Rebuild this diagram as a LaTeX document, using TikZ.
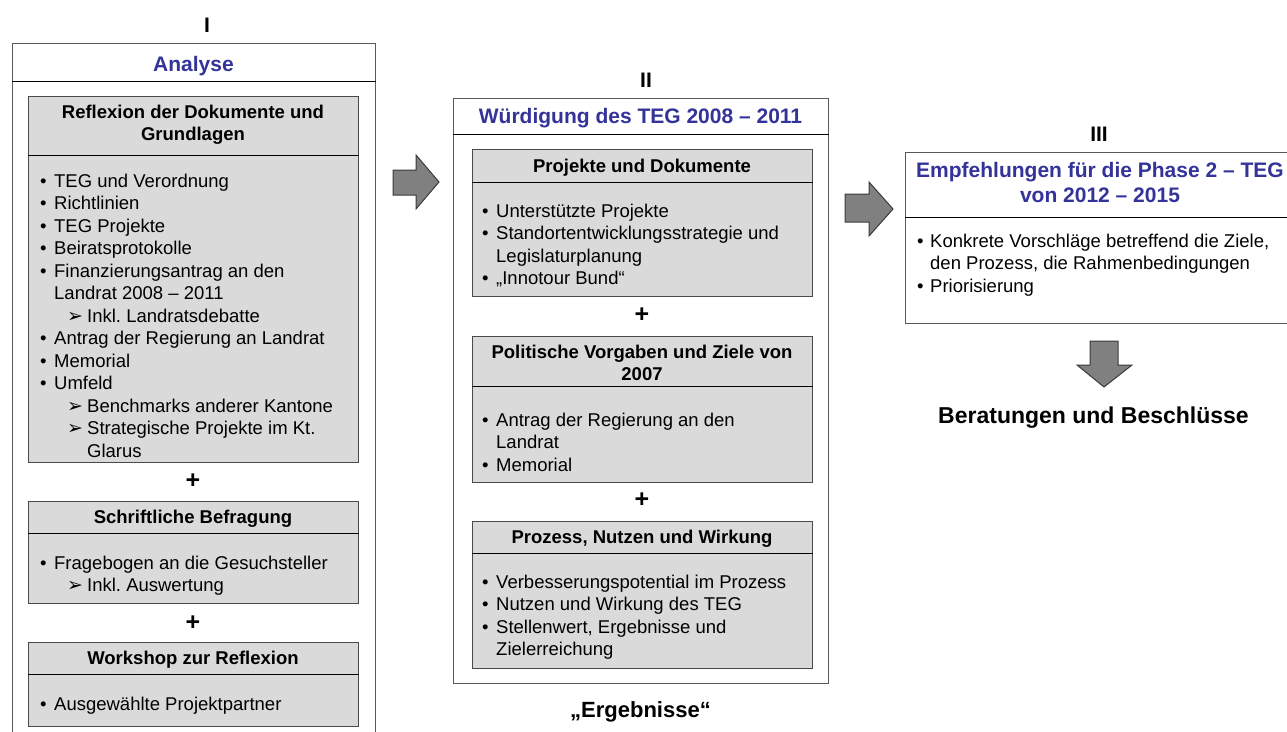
\documentclass[tikz,border=0pt]{standalone}
\usepackage{fontspec}
\setmainfont{Liberation Sans}
\newfontfamily\symfont{DejaVu Sans}
\frenchspacing
\definecolor{titleblue}{HTML}{333399}
\definecolor{boxgray}{HTML}{DADADA}
\definecolor{boxline}{HTML}{4A4A4A}
\definecolor{frameline}{HTML}{5A5A5A}
\definecolor{arrowfill}{HTML}{808080}
\definecolor{arrowline}{HTML}{3A3A3A}
% text sizes
\newcommand{\bodyfont}{\fontsize{18.5}{22.5}\selectfont}
\newcommand{\headfont}{\fontsize{18.5}{22}\selectfont\bfseries}
\newcommand{\titlefont}{\fontsize{21}{25}\selectfont\bfseries}
\newcommand{\bigfont}{\fontsize{23}{27}\selectfont\bfseries}
% list helpers
\newcommand{\blist}[1]{\begin{tabular}[t]{@{}l@{}}#1\end{tabular}}
\newcommand{\clist}[1]{\begin{tabular}[t]{@{}c@{}}#1\end{tabular}}
\newcommand{\bpt}[1]{\makebox[14pt][l]{•}#1}
\newcommand{\bcont}[1]{\hspace*{14pt}#1}
\newcommand{\bsub}[1]{\hspace*{27pt}\makebox[20pt][l]{\fontsize{19}{19}\selectfont\symfont ➢}#1}
\newcommand{\bsubcont}[1]{\hspace*{47pt}#1}
\begin{document}
\begin{tikzpicture}[x=1pt,y=-1pt,
  frame/.style={draw=frameline, line width=1.2pt, fill=white, inner sep=0pt, anchor=north west},
  graybox/.style={draw=boxline, line width=1.4pt, fill=boxgray, inner sep=0pt, anchor=north west},
  sepline/.style={draw=black, line width=1pt},
  blockarrow/.style={draw=arrowline, line width=1pt, fill=arrowfill, line join=miter},
  listtext/.style={anchor=base west, inner sep=0pt, font=\bodyfont},
  headtext/.style={anchor=base, inner sep=0pt, font=\headfont},
  titletext/.style={anchor=base, inner sep=0pt, font=\titlefont, text=titleblue},
  plus/.style={anchor=center, inner sep=0pt, font=\fontsize{25}{25}\selectfont\bfseries},
  numeral/.style={anchor=base, inner sep=0pt, font=\titlefont},
  bigtext/.style={anchor=base, inner sep=0pt, font=\bigfont}]
\useasboundingbox (0,0) rectangle (1287,731);
\clip (0,0) rectangle (1287,731);

% ---------------- column I ----------------
\node[numeral] (numI) at (207,32) {I};
\node[frame, minimum width=363pt, minimum height=717pt] (boxI) at (12,43) {};
\draw[sepline] (boxI.north west |- 0,81) -- (boxI.north east |- 0,81);
\node[titletext] (titleI) at (193.5,71) {Analyse};

\node[graybox, minimum width=330pt, minimum height=366pt] (ga) at (28,96) {};
\draw[sepline] (ga.north west |- 0,155) -- (ga.north east |- 0,155);
\node[headtext] (ha) at (193,118) {\clist{Reflexion der Dokumente und\\Grundlagen}};
\node[listtext] (la) at (40,187) {\blist{%
\bpt{TEG und Verordnung}\\
\bpt{Richtlinien}\\
\bpt{TEG Projekte}\\
\bpt{Beiratsprotokolle}\\
\bpt{Finanzierungsantrag an den}\\
\bcont{Landrat 2008 – 2011}\\
\bsub{Inkl. Landratsdebatte}\\
\bpt{Antrag der Regierung an Landrat}\\
\bpt{Memorial}\\
\bpt{Umfeld}\\
\bsub{Benchmarks anderer Kantone}\\
\bsub{Strategische Projekte im Kt.}\\
\bsubcont{Glarus}}};

\node[plus] (pa) at (193,481) {+};

\node[graybox, minimum width=330pt, minimum height=102pt] (gb) at (28,501) {};
\draw[sepline] (gb.north west |- 0,533) -- (gb.north east |- 0,533);
\node[headtext] (hb) at (193,523) {Schriftliche Befragung};
\node[listtext] (lb) at (40,569) {\blist{%
\bpt{Fragebogen an die Gesuchsteller}\\
\bsub{Inkl. Auswertung}}};

\node[plus] (pb) at (193,623) {+};

\node[graybox, minimum width=330pt, minimum height=84pt] (gc) at (28,642) {};
\draw[sepline] (gc.north west |- 0,674) -- (gc.north east |- 0,674);
\node[headtext] (hc) at (193,664) {Workshop zur Reflexion};
\node[listtext] (lc) at (40,710) {\blist{\bpt{Ausgewählte Projektpartner}}};

% arrow I -> II
\draw[blockarrow] (393,170) -- (416,170) -- (416,155) -- (439,182) -- (416,209) -- (416,195) -- (393,195) -- cycle;

% ---------------- column II ----------------
\node[numeral] (numII) at (646,87) {II};
\node[frame, minimum width=375pt, minimum height=585pt] (boxII) at (453,98) {};
\draw[sepline] (boxII.north west |- 0,134) -- (boxII.north east |- 0,134);
\node[titletext] (titleII) at (640.5,123) {Würdigung des TEG 2008 – 2011};

\node[graybox, minimum width=340pt, minimum height=147pt] (gd) at (472,149) {};
\draw[sepline] (gd.north west |- 0,182) -- (gd.north east |- 0,182);
\node[headtext] (hd) at (642,172) {Projekte und Dokumente};
\node[listtext] (ld) at (482,217) {\blist{%
\bpt{Unterstützte Projekte}\\
\bpt{Standortentwicklungsstrategie und}\\
\bcont{Legislaturplanung}\\
\bpt{„Innotour Bund“}}};

\node[plus] (pd) at (642,315) {+};

\node[graybox, minimum width=340pt, minimum height=146pt] (ge) at (472,336) {};
\draw[sepline] (ge.north west |- 0,386) -- (ge.north east |- 0,386);
\node[headtext] (he) at (642,358) {\clist{Politische Vorgaben und Ziele von\\2007}};
\node[listtext] (le) at (482,426) {\blist{%
\bpt{Antrag der Regierung an den}\\
\bcont{Landrat}\\
\bpt{Memorial}}};

\node[plus] (pe) at (642,500) {+};

\node[graybox, minimum width=340pt, minimum height=147pt] (gf) at (472,521) {};
\draw[sepline] (gf.north west |- 0,553) -- (gf.north east |- 0,553);
\node[headtext] (hf) at (642,543) {Prozess, Nutzen und Wirkung};
\node[listtext] (lf) at (482,588) {\blist{%
\bpt{Verbesserungspotential im Prozess}\\
\bpt{Nutzen und Wirkung des TEG}\\
\bpt{Stellenwert, Ergebnisse und}\\
\bcont{Zielerreichung}}};

\node[bigtext, font=\fontsize{22}{26}\selectfont\bfseries] (result) at (640.5,717) {„Ergebnisse“};

% arrow II -> III
\draw[blockarrow] (845,194) -- (869,194) -- (869,182) -- (893,209) -- (869,236) -- (869,222) -- (845,222) -- cycle;

% ---------------- column III ----------------
\node[numeral] (numIII) at (1099,141) {III};
\node[frame, minimum width=390pt, minimum height=171pt] (boxIII) at (905,152) {};
\draw[sepline] (boxIII.north west |- 0,217) -- (boxIII.north east |- 0,217);
\node[titletext] (titleIII) at (1100,177) {\clist{Empfehlungen für die Phase 2 – TEG\\von 2012 – 2015}};
\node[listtext] (lg) at (917,247) {\blist{%
\makebox[13pt][l]{•}Konkrete Vorschläge betreffend die Ziele,\\
\hspace*{13pt}den Prozess, die Rahmenbedingungen\\
\makebox[13pt][l]{•}Priorisierung}};

% arrow III -> decisions
\draw[blockarrow] (1090,341) -- (1118,341) -- (1118,365) -- (1132,365) -- (1104,387) -- (1077,365) -- (1090,365) -- cycle;

\node[bigtext] (final) at (1093.5,423) {Beratungen und Beschlüsse};
\end{tikzpicture}
\end{document}
